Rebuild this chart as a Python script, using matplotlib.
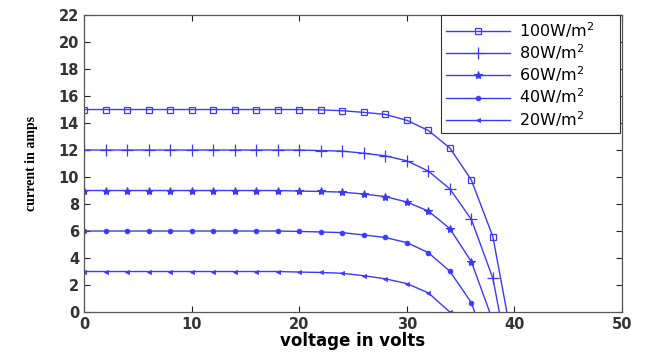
import matplotlib
matplotlib.use('Agg')
import matplotlib.pyplot as plt

# 电压 (V) - 每 2V 一个标记点, 最后一个点为开路电压
v_100 = [0, 2, 4, 6, 8, 10, 12, 14, 16, 18, 20, 22, 24, 26, 28, 30, 32, 34, 36, 38, 39.3]
i_100 = [15.0, 15.0, 15.0, 15.0, 15.0, 15.0, 15.0, 15.0, 15.0, 15.0,
         15.0, 14.98, 14.91, 14.79, 14.64, 14.2, 13.45, 12.15, 9.78, 5.58, 0.0]

v_80 = [0, 2, 4, 6, 8, 10, 12, 14, 16, 18, 20, 22, 24, 26, 28, 30, 32, 34, 36, 38, 38.6]
i_80 = [12.0, 12.0, 12.0, 12.0, 12.0, 12.0, 12.0, 12.0, 12.0, 12.0,
        12.0, 11.96, 11.92, 11.76, 11.57, 11.2, 10.44, 9.12, 6.86, 2.49, 0.0]

v_60 = [0, 2, 4, 6, 8, 10, 12, 14, 16, 18, 20, 22, 24, 26, 28, 30, 32, 34, 36, 37.7]
i_60 = [9.0, 9.0, 9.0, 9.0, 9.0, 9.0, 9.0, 9.0, 9.0, 9.0,
        8.96, 8.93, 8.88, 8.74, 8.55, 8.15, 7.48, 6.18, 3.73, 0.0]

v_40 = [0, 2, 4, 6, 8, 10, 12, 14, 16, 18, 20, 22, 24, 26, 28, 30, 32, 34, 36, 36.3]
i_40 = [6.0, 6.0, 6.0, 6.0, 6.0, 6.0, 6.0, 6.0, 6.0, 6.0,
        5.97, 5.93, 5.88, 5.71, 5.52, 5.14, 4.4, 3.02, 0.69, 0.0]

v_20 = [0, 2, 4, 6, 8, 10, 12, 14, 16, 18, 20, 22, 24, 26, 28, 30, 32, 34]
i_20 = [3.0, 3.0, 3.0, 3.0, 3.0, 3.0, 3.0, 3.0, 3.0, 3.0,
        2.96, 2.93, 2.87, 2.69, 2.46, 2.11, 1.42, 0.0]

labels = ['100W/m$^2$', '80W/m$^2$', '60W/m$^2$', '40W/m$^2$', '20W/m$^2$']

plt.rcParams['font.family'] = ['DejaVu Sans']
plt.rcParams['mathtext.fontset'] = 'dejavusans'

fig = plt.figure(figsize=(6.49, 3.52), dpi=100)
ax = fig.add_axes([0.1294, 0.1136, 0.8290, 0.8437])

col = '#3a3aff'
series = [
    (v_100, i_100, dict(marker='s', ms=4, mfc='none', mew=0.9)),
    (v_80, i_80, dict(marker='+', ms=8, mew=0.9)),
    (v_60, i_60, dict(marker='*', ms=6, mew=0.8)),
    (v_40, i_40, dict(marker='o', ms=3.5, mew=0.5)),
    (v_20, i_20, dict(marker='<', ms=3, mew=0.5)),
]
for (v, i, mk), lab in zip(series, labels):
    # 开路电压端点不画标记
    idx = [k for k in range(len(v)) if v[k] % 2 == 0]
    ax.plot(v, i, color=col, lw=1.0, markevery=idx, label=lab, **mk)

ax.set_xlim(0, 50)
ax.set_ylim(0, 22)
ax.set_xticks(range(0, 51, 10))
ax.set_yticks(range(0, 23, 2))
ax.tick_params(direction='in', top=True, right=True, labelsize=10.5,
               length=4, width=0.8, colors='#222222', labelcolor='#333333')
for lb in ax.get_xticklabels() + ax.get_yticklabels():
    lb.set_fontweight('bold')
for s in ax.spines.values():
    s.set_color('#555555')
    s.set_linewidth(0.9)

ax.set_xlabel('voltage in volts', fontsize=12, fontweight='bold', labelpad=0)
ax.set_ylabel('current in amps', fontsize=10, fontweight='bold',
              family='Liberation Serif', labelpad=15)

leg = ax.legend(loc='upper left', bbox_to_anchor=(0.6636, 0.606, 0.3327, 0.394),
                mode='expand', fontsize=11.5, handlelength=4.0,
                handletextpad=0.6, labelspacing=0.16, borderaxespad=0,
                fancybox=False, framealpha=1, edgecolor='#333333',
                borderpad=0.3)
leg.get_frame().set_linewidth(0.8)

fig.savefig('out.png', dpi=100)
